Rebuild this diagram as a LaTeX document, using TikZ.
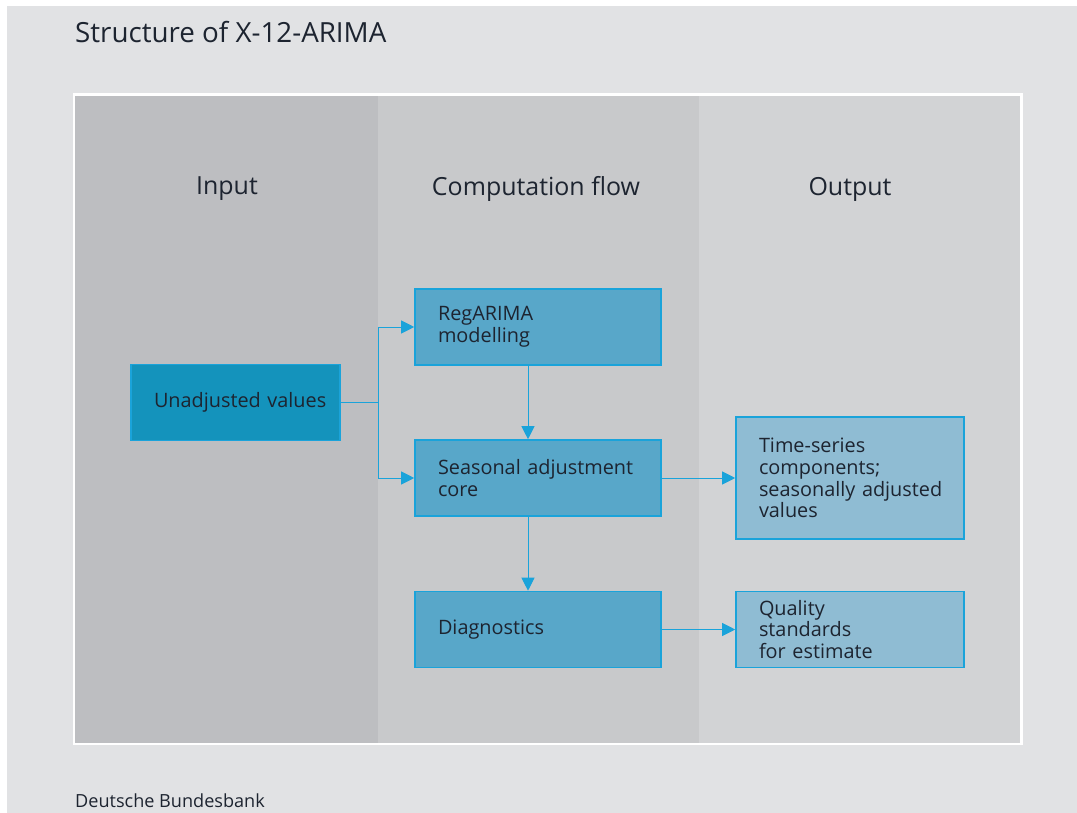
\documentclass[tikz,border=0pt]{standalone}
\usepackage{fontspec}
\setmainfont{Open Sans}
\usetikzlibrary{arrows.meta}
\hbadness=10000 \hfuzz=20pt
\definecolor{pagegray}{HTML}{E1E2E4}
\definecolor{colin}{HTML}{BDBEC1}
\definecolor{colflow}{HTML}{C8C9CB}
\definecolor{colout}{HTML}{D2D3D5}
\definecolor{boxdark}{HTML}{1493BC}
\definecolor{boxmid}{HTML}{58A7C9}
\definecolor{boxlight}{HTML}{8FBCD3}
\definecolor{edgeblue}{HTML}{1AA3DA}
\definecolor{inktext}{HTML}{1D2430}
\tikzset{
  box/.style={draw=edgeblue, line width=0.9pt, text=inktext, font=\fontsize{11.3}{12.4}\selectfont,
    minimum height=76*0.02cm, text width=200*0.02cm, inner xsep=23*0.02cm, align=left},
  flow/.style={draw=edgeblue, line width=0.55pt, -{Triangle[length=7.5pt, width=7.5pt]}},
  head/.style={text=inktext, font=\fontsize{14.2}{16}\selectfont}
}
\begin{document}
\begin{tikzpicture}[x=0.02cm, y=-0.02cm]
      \useasboundingbox (0,0) rectangle (1077,813);
      \fill[pagegray] (7,6) rectangle (1077,813);
      \fill[colin] (74,95) rectangle (378,744);
      \fill[colflow] (378,95) rectangle (699,744);
      \fill[colout] (699,95) rectangle (1021,744);
      \draw[white, line width=1.7pt] (74,95) rectangle (1021,744);
      \node[anchor=west, text=inktext, font=\fontsize{15.8}{18}\selectfont] (title) at (69,32) {Structure of X-12-ARIMA};
      \node[anchor=west, text=inktext, font=\fontsize{10.3}{12}\selectfont] (source) at (69,801) {Deutsche Bundesbank};
      \node[head] (input) at (227,189) {Input};
      \node[head] (comp) at (536,189) {Computation flow};
      \node[head] (output) at (850,189) {Output};
      \node[box, fill=boxdark, text width=163*0.02cm] (unadj) at (235.5,402.5) {\mbox{Unadjusted values}};
      \node[box, fill=boxmid] (regarima) at (538,327) {RegARIMA\\modelling};
      \node[box, fill=boxmid] (seasonal) at (538,478) {Seasonal adjustment\\core};
      \node[box, fill=boxmid] (diag) at (538,629.5) {Diagnostics};
      \node[box, fill=boxlight, text width=182*0.02cm, minimum height=122*0.02cm] (tscomp) at (850,478) {Time-series\\components;\\\mbox{seasonally adjusted}\\values};
      \node[box, fill=boxlight, text width=182*0.02cm] (quality) at (850,629.5) {Quality\\standards\\for estimate};
      \coordinate (split) at (378,402.5);
      \draw[flow] (unadj.east) -- (split) |- (regarima.west);
      \draw[flow] (split) |- (seasonal.west);
      \draw[flow] ([xshift=-0.2cm]regarima.south) -- ([xshift=-0.2cm]seasonal.north);
      \draw[flow] ([xshift=-0.2cm]seasonal.south) -- ([xshift=-0.2cm]diag.north);
      \draw[flow] (seasonal) -- (tscomp);
      \draw[flow] (diag) -- (quality);
    \end{tikzpicture}
\end{document}
